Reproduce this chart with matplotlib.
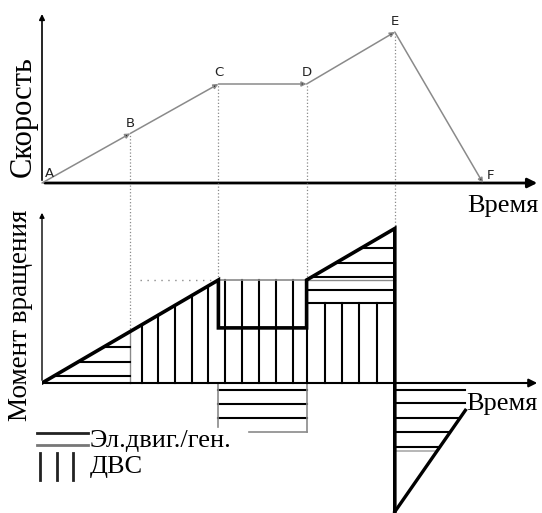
import numpy as np
import matplotlib
matplotlib.use("Agg")
import matplotlib.pyplot as plt

# speed profile, points A..F (time in arbitrary units)
point_names = ["A", "B", "C", "D", "E", "F"]
t_pts = [0, 1, 2, 3, 4, 5]
speed = [0, 1.0, 2.0, 2.0, 3.05, 0]

# total torque outline
t_total = [0, 2, 2, 3, 3, 4, 4]
tq_total = [0, 2.0, 1.07, 1.07, 2.0, 3.0, -2.5]
# regenerative branch after E
t_regen = [4, 4.8]
tq_regen = [-2.5, -0.53]

ice_cd = 2.0       # ICE torque between C and D
ice_de = 1.55      # ICE torque between D and E
gen_cd = -0.95     # generator torque between C and D

# hatch lines
hatch_ab = [0.70, 0.41, 0.136]                      # electric, A-B
vhatch_bc = [1.134, 1.315, 1.508, 1.701, 1.882]     # ICE, B-C
vhatch_cd = [2.075, 2.268, 2.46, 2.653, 2.846]      # ICE, C-D
hatch_cd = [-0.136, -0.408, -0.68]                  # generator, C-D
vhatch_de = [3.0, 3.209, 3.401, 3.594, 3.798]       # ICE, D-E
hatch_de = [2.62, 2.33, 2.06, 1.81, 1.55]           # electric, D-E
hatch_ef = [-0.136, -0.388, -0.68, -0.95, -1.24]    # regen, after E

W, H = 542, 513
px = 88.2     # pixels per time unit
x0 = 42       # y axis position
sp_px = 49.5  # pixels per speed unit
tq_px = 51.5  # pixels per torque unit

fig = plt.figure(figsize=(W / 100, H / 100), dpi=100)

tmax = (540 - x0) / px
# top axes: x axis at y=183, top at y=10
ax1 = fig.add_axes([x0 / W, (H - 183) / H, (540 - x0) / W, 173 / H])
ax1.set_xlim(0, tmax)
ax1.set_ylim(0, 173 / sp_px)
# bottom axes: from y=183 down to 513, zero at 383
ax2 = fig.add_axes([x0 / W, 0, (540 - x0) / W, (H - 183 + 0) / H])
ax2.set_xlim(0, tmax)
ax2.set_ylim(-(H - 383) / tq_px, (383 - 183) / tq_px)
for ax in (ax1, ax2):
    ax.axis("off")

grey = "#8a8a8a"

# ---- top chart ----
ax1.annotate("", xy=(tmax, 0), xytext=(0, 0),
             arrowprops=dict(arrowstyle="-|>", color="k", lw=2, mutation_scale=14),
             annotation_clip=False)
ax1.annotate("", xy=(0, 3.47), xytext=(0, 0),
             arrowprops=dict(arrowstyle="-|>", color="k", lw=1.2, mutation_scale=8),
             annotation_clip=False)
for i in range(len(t_pts) - 1):
    ax1.annotate("", xy=(t_pts[i + 1], speed[i + 1]), xytext=(t_pts[i], speed[i]),
                 arrowprops=dict(arrowstyle="-|>", color=grey, lw=1.1,
                                 mutation_scale=7, fc="k", ec=grey,
                                 shrinkA=0, shrinkB=0))
for i in range(1, 5):
    ax1.plot([t_pts[i], t_pts[i]], [0, speed[i]], ls=":", color=grey, lw=0.9)
lbl_off = [(0.08, 0.2), (0, 0.2), (0, 0.23), (0, 0.23), (0, 0.22), (0.08, 0.16)]
for i, n in enumerate(point_names):
    ax1.text(t_pts[i] + lbl_off[i][0], speed[i] + lbl_off[i][1], n,
             fontsize=9.5, ha="center", va="center", family="DejaVu Sans",
             color="#222222")

# ---- bottom chart ----
ytop = (383 - 183) / tq_px
for i in range(1, 5):
    tt = t_pts[i]
    lvl = [1.0, 2.0, 2.0, 3.0][i - 1]
    ax2.plot([tt, tt], [lvl, ytop], ls=":", color=grey, lw=0.9)
ax2.plot([1, 1], [0, 1.0], color=grey, lw=1.0)
ax2.plot([1.11, 2], [ice_cd, ice_cd], ls=(0, (1, 4)), color=grey, lw=1.0)

ax2.annotate("", xy=(tmax, 0), xytext=(0, 0),
             arrowprops=dict(arrowstyle="-|>", color="k", lw=1.5, mutation_scale=12),
             annotation_clip=False)
ax2.annotate("", xy=(0, (383 - 210) / tq_px), xytext=(0, 0),
             arrowprops=dict(arrowstyle="-|>", color="k", lw=1.0, mutation_scale=7),
             annotation_clip=False)

hk = dict(color="k", lw=1.5)
# A-B electric
for lv in hatch_ab:
    ax2.plot([lv, 1], [lv, lv], **hk)
# B-C ICE
for tv in vhatch_bc:
    ax2.plot([tv, tv], [0, tv], **hk)
# C-D
for tv in vhatch_cd:
    ax2.plot([tv, tv], [0, ice_cd], **hk)
ax2.plot([2, 3], [ice_cd, ice_cd], color=grey, lw=1.2)
for lv in hatch_cd:
    ax2.plot([2, 3], [lv, lv], **hk)
ax2.plot([2, 2], [0, gen_cd + 0.1], color=grey, lw=1.2)
ax2.plot([3, 3], [0, gen_cd], color=grey, lw=1.2)
ax2.plot([2.35, 3], [gen_cd, gen_cd], color=grey, lw=1.2)
# D-E
for tv in vhatch_de:
    ax2.plot([tv, tv], [0, ice_de], **hk)
for lv in hatch_de:
    ax2.plot([3 + max(lv - 2.0, 0), 4], [lv, lv], **hk)
ax2.plot([3, 4], [ice_cd, ice_cd], color=grey, lw=1.0)
# after E
slope = (tq_regen[1] - tq_regen[0]) / (t_regen[1] - t_regen[0])
for lv in hatch_ef:
    tend = min(t_regen[1], t_regen[0] + (lv - tq_regen[0]) / slope)
    ax2.plot([4, tend], [lv, lv], **hk)
ax2.plot([4, 4 + (-1.32 - tq_regen[0]) / slope], [-1.32, -1.32], color="#aaaaaa", lw=1.2)

# outlines
ax2.plot(t_total, tq_total, color="k", lw=2.6, solid_joinstyle="miter")
ax2.plot(t_regen, tq_regen, color="k", lw=2.4)

# legend
ax2.plot([-0.057, 0.52], [-0.97, -0.97], color="#222222", lw=2, clip_on=False)
ax2.plot([-0.057, 0.52], [-1.2, -1.2], color="#777777", lw=2, clip_on=False)
for tv in [-0.023, 0.17, 0.35]:
    ax2.plot([tv, tv], [-1.36, -1.88], color="#222222", lw=2, clip_on=False)

serif = "Liberation Serif"
fig.text(90 / W, 1 - 441 / H, "Эл.двиг./ген.", fontsize=19, family=serif,
         ha="left", va="center")
fig.text(90 / W, 1 - 467 / H, "ДВС", fontsize=19, family=serif,
         ha="left", va="center")
fig.text(539 / W, 1 - 206 / H, "Время", fontsize=19, family=serif,
         ha="right", va="center")
fig.text(466 / W, 1 - 404 / H, "Время", fontsize=19, family=serif,
         ha="left", va="center")
fig.text(23 / W, 1 - 117 / H, "Скорость", fontsize=22, family=serif,
         ha="center", va="center", rotation=90)
fig.text(21 / W, 1 - 315 / H, "Момент вращения", fontsize=19.5, family=serif,
         ha="center", va="center", rotation=90)

fig.savefig("out.png", dpi=100)
